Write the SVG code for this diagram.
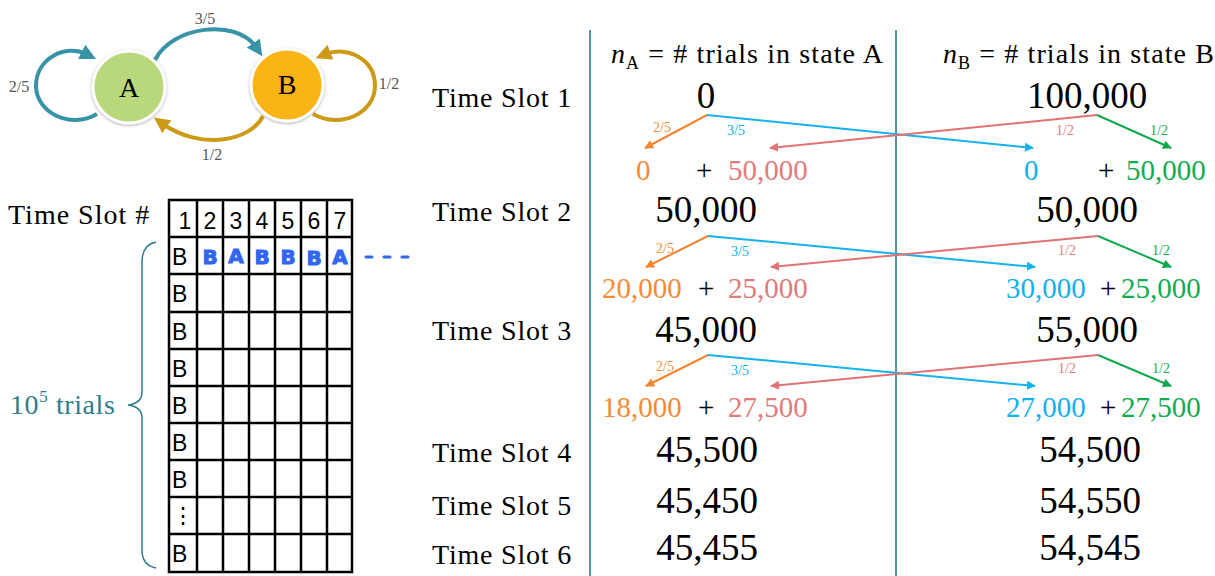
<svg xmlns="http://www.w3.org/2000/svg" width="1215" height="576" viewBox="0 0 1215 576">
<style>
.serif{font-family:"Liberation Serif","Times New Roman",serif}
.sans{font-family:"Liberation Sans",Arial,sans-serif}
.ts{font-family:"Liberation Serif",serif;font-size:28px;letter-spacing:0.8px;fill:#000}
.val{font-family:"Liberation Serif",serif;font-size:37px;fill:#000;text-anchor:middle}
.sub{font-family:"Liberation Serif",serif;font-size:29px}
.lbl{font-family:"Liberation Serif",serif;font-size:14px;text-anchor:middle}
.prob{font-family:"Liberation Serif",serif;font-size:16px;fill:#555;text-anchor:middle}
.grid{stroke:#000;stroke-width:2.5;fill:none}
.cell{font-family:"Liberation Sans",Arial,sans-serif;font-size:23px;fill:#000}
.hand{font-family:"DejaVu Sans",sans-serif;font-weight:bold;font-size:20px;fill:#3366ee;stroke:#3366ee;stroke-width:1;text-anchor:middle}
.vline{stroke:#1f6c85;stroke-width:1.5}
.a-or{stroke:#f58431;stroke-width:2;fill:none;marker-end:url(#hOr)}
.a-bl{stroke:#14b2ee;stroke-width:2;fill:none;marker-end:url(#hBl)}
.a-pk{stroke:#e07474;stroke-width:2;fill:none;marker-end:url(#hPk)}
.a-gr{stroke:#10a84c;stroke-width:2;fill:none;marker-end:url(#hGr)}
.or{fill:#f58a35}.bl{fill:#12b0f0}.pk{fill:#e27b7b}.gr{fill:#12ad4f}
</style>
<defs>
<marker id="hTeal" viewBox="0 0 10 10" refX="3" refY="5" markerUnits="userSpaceOnUse" markerWidth="16" markerHeight="16" orient="auto"><path d="M0,0 L10,5 L0,10 z" fill="#3893a7"/></marker>
<marker id="hGold" viewBox="0 0 10 10" refX="3" refY="5" markerUnits="userSpaceOnUse" markerWidth="16" markerHeight="16" orient="auto"><path d="M0,0 L10,5 L0,10 z" fill="#cc9a17"/></marker>
<marker id="hOr" viewBox="0 0 10 10" refX="9" refY="5" markerUnits="userSpaceOnUse" markerWidth="9" markerHeight="9" orient="auto"><path d="M0,0 L10,5 L0,10 z" fill="#f58431"/></marker>
<marker id="hBl" viewBox="0 0 10 10" refX="9" refY="5" markerUnits="userSpaceOnUse" markerWidth="9" markerHeight="9" orient="auto"><path d="M0,0 L10,5 L0,10 z" fill="#14b2ee"/></marker>
<marker id="hPk" viewBox="0 0 10 10" refX="9" refY="5" markerUnits="userSpaceOnUse" markerWidth="9" markerHeight="9" orient="auto"><path d="M0,0 L10,5 L0,10 z" fill="#e07474"/></marker>
<marker id="hGr" viewBox="0 0 10 10" refX="9" refY="5" markerUnits="userSpaceOnUse" markerWidth="9" markerHeight="9" orient="auto"><path d="M0,0 L10,5 L0,10 z" fill="#10a84c"/></marker>
<filter id="sh" x="-30%" y="-30%" width="160%" height="160%"><feDropShadow dx="0" dy="1" stdDeviation="1.5" flood-color="#000" flood-opacity="0.35"/></filter>
</defs>
<rect width="1215" height="576" fill="#fff"/>

<!-- state diagram connectors -->
<g id="state-connectors" fill="none" stroke-width="4">
<path d="M97,114 C70,130 36,112 36,86 C36,58 66,44 86,54" stroke="#3893a7" marker-end="url(#hTeal)"/>
<path d="M155,60 C172,26 236,18 256,47" stroke="#3893a7" marker-end="url(#hTeal)"/>
<path d="M313,114 C342,130 375,112 375,86 C375,58 346,46 326,54" stroke="#cc9a17" marker-end="url(#hGold)"/>
<path d="M263,116 C250,142 200,150 163,124" stroke="#cc9a17" marker-end="url(#hGold)"/>
</g>
<g id="state-A"><circle cx="129" cy="87" r="36" fill="#b9d87c" stroke="#fff" stroke-width="3" filter="url(#sh)"/><text x="129" y="97" class="serif" font-size="28" text-anchor="middle">A</text></g>
<g id="state-B"><circle cx="287" cy="85" r="36" fill="#fbb412" stroke="#fff" stroke-width="3" filter="url(#sh)"/><text x="287" y="94" class="serif" font-size="28" text-anchor="middle">B</text></g>
<g id="state-labels">
<text x="19" y="92" class="prob">2/5</text>
<text x="205" y="24" class="prob">3/5</text>
<text x="389" y="89" class="prob">1/2</text>
<text x="212" y="160" class="prob">1/2</text>
</g>

<!-- table -->
<g id="table">
<text x="8" y="224" class="serif" font-size="28" letter-spacing="1">Time Slot #</text>
<g class="grid">
<rect x="169" y="200" width="183" height="372"/>
<path d="M197,200V572M223,200V572M249,200V572M275,200V572M301,200V572M327,200V572"/>
<path d="M169,237H352M169,274H352M169,312H352M169,349H352M169,386H352M169,423H352M169,460H352M169,497H352M169,534H352"/>
</g>
<g class="cell" text-anchor="middle">
<text x="185" y="229">1</text><text x="210" y="229">2</text><text x="236" y="229">3</text><text x="262" y="229">4</text><text x="288" y="229">5</text><text x="314" y="229">6</text><text x="340" y="229">7</text>
</g>
<g class="cell">
<text x="172" y="265">B</text><text x="172" y="302">B</text><text x="172" y="340">B</text><text x="172" y="377">B</text><text x="172" y="414">B</text><text x="172" y="451">B</text><text x="172" y="488">B</text><text x="172" y="523" font-size="22">⋮</text><text x="172" y="562">B</text>
</g>
<g class="hand">
<text x="210" y="264">B</text><text x="236" y="263">A</text><text x="262" y="264">B</text><text x="288" y="264">B</text><text x="314" y="265">B</text><text x="340" y="264">A</text>
</g>
<path d="M366,257h6M384,257h6M402,257h6" stroke="#3366ee" stroke-width="3" stroke-linecap="round"/>
<path d="M156,242 C146,244 142,252 142,262 L142,392 C142,400 136,404 128,405 C136,406 142,410 142,418 L142,550 C142,560 146,566 156,568" fill="none" stroke="#2e7d8f" stroke-width="1.5"/>
<text x="10" y="414" class="serif" font-size="28" letter-spacing="0.6" fill="#2f7d8c">10<tspan font-size="17" dy="-12">5</tspan><tspan dy="12"> trials</tspan></text>
</g>

<!-- dividers -->
<g id="dividers">
<line x1="590" y1="30" x2="590" y2="576" class="vline"/>
<line x1="896" y1="30" x2="896" y2="576" class="vline"/>
</g>

<!-- headers -->
<g id="headers" class="serif" font-size="28" letter-spacing="1.1">
<text x="611" y="63"><tspan font-style="italic">n</tspan><tspan font-size="18" dy="6">A</tspan><tspan dy="-6"> = # trials in state A</tspan></text>
<text x="943" y="63"><tspan font-style="italic">n</tspan><tspan font-size="18" dy="6">B</tspan><tspan dy="-6"> = # trials in state B</tspan></text>
</g>

<g id="time-slot-labels" class="ts">
<text x="432" y="107">Time Slot 1</text>
<text x="432" y="221">Time Slot 2</text>
<text x="432" y="340">Time Slot 3</text>
<text x="432" y="462">Time Slot 4</text>
<text x="432" y="515">Time Slot 5</text>
<text x="432" y="564">Time Slot 6</text>
</g>

<g id="values">
<text x="706" y="108" class="val">0</text><text x="1087" y="108" class="val">100,000</text>
<text x="706" y="222" class="val">50,000</text><text x="1087" y="222" class="val">50,000</text>
<text x="706" y="342" class="val">45,000</text><text x="1087" y="342" class="val">55,000</text>
<text x="707" y="462" class="val">45,500</text><text x="1090" y="462" class="val">54,500</text>
<text x="707" y="513" class="val">45,450</text><text x="1090" y="513" class="val">54,550</text>
<text x="707" y="560" class="val">45,455</text><text x="1090" y="560" class="val">54,545</text>
</g>

<g id="split-values" class="sub">
<text x="636" y="180" class="or">0</text><text x="696" y="180">+</text><text x="728" y="180" class="pk">50,000</text>
<text x="1024" y="180" class="bl">0</text><text x="1098" y="180">+</text><text x="1126" y="180" class="gr">50,000</text>
<text x="602" y="298" class="or">20,000</text><text x="698" y="298">+</text><text x="728" y="298" class="pk">25,000</text>
<text x="1006" y="298" class="bl">30,000</text><text x="1100" y="298">+</text><text x="1121" y="298" class="gr">25,000</text>
<text x="602" y="417" class="or">18,000</text><text x="698" y="417">+</text><text x="728" y="417" class="pk">27,500</text>
<text x="1006" y="417" class="bl">27,000</text><text x="1100" y="417">+</text><text x="1121" y="417" class="gr">27,500</text>
</g>

<g id="connectors">
<path class="a-or" d="M707,115 L645,148"/>
<path class="a-bl" d="M707,115 L1033,148"/>
<path class="a-pk" d="M1097,115 L770,148"/>
<path class="a-gr" d="M1097,115 L1171,148"/>
<path class="a-or" d="M708,236 L646,267"/>
<path class="a-bl" d="M708,236 L1035,267"/>
<path class="a-pk" d="M1098,236 L771,267"/>
<path class="a-gr" d="M1098,236 L1171,267"/>
<path class="a-or" d="M708,355 L646,386"/>
<path class="a-bl" d="M708,355 L1035,386"/>
<path class="a-pk" d="M1098,355 L771,386"/>
<path class="a-gr" d="M1098,355 L1171,386"/>
</g>
<g id="connector-labels" class="lbl">
<text x="662" y="132" class="or">2/5</text><text x="736" y="135" class="bl">3/5</text><text x="1065" y="135" class="pk">1/2</text><text x="1159" y="135" class="gr">1/2</text>
<text x="665" y="253" class="or">2/5</text><text x="740" y="256" class="bl">3/5</text><text x="1067" y="255" class="pk">1/2</text><text x="1161" y="255" class="gr">1/2</text>
<text x="665" y="371" class="or">2/5</text><text x="740" y="375" class="bl">3/5</text><text x="1067" y="373" class="pk">1/2</text><text x="1161" y="373" class="gr">1/2</text>
</g>
</svg>
